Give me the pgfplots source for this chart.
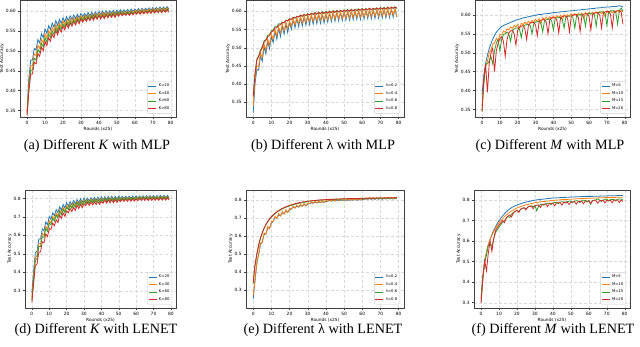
\documentclass[border=0pt]{standalone}
\usepackage{fontspec}
\setmainfont{Liberation Serif}
\newfontfamily\dv{DejaVu Sans}
\usepackage{pgfplots}
\pgfplotsset{compat=1.18}
\usepackage{pgfplotstable}

\definecolor{mplblue}{HTML}{1F77B4}
\definecolor{mplorange}{HTML}{FF7F0E}
\definecolor{mplgreen}{HTML}{2CA02C}
\definecolor{mplred}{HTML}{D62728}

\pgfplotsset{
  panel/.style={
    scale only axis, anchor=south west,
    xmin=-3.95, xmax=82.95,
    xtick={0,10,20,30,40,50,60,70,80},
    grid=major,
    grid style={densely dashed, black!15, line width=0.3pt},
    axis line style={black!75, line width=0.4pt},
    tick align=outside, major tick length=1.6pt,
    tick style={black!75, line width=0.35pt},
    xtick pos=bottom, ytick pos=left,
    /pgf/number format/assume math mode=true,
    tick label style={font=\dv\fontsize{4.4}{5}\selectfont},
    label style={font=\dv\fontsize{4.3}{5}\selectfont},
    xlabel={Rounds (x25)}, ylabel={Test Accuracy},
    xlabel style={yshift=4.5pt}, ylabel style={yshift=-5pt},
    xticklabel style={yshift=0.8pt}, yticklabel style={xshift=0.8pt},
    every axis plot/.append style={line width=0.8pt},
    legend style={at={(0.975,0.03)}, anchor=south east,
      font=\dv\fontsize{3.8}{4.2}\selectfont, draw=black!20,
      rounded corners=1pt, inner sep=0.6pt, row sep=-0.9pt,
      fill=white, fill opacity=0.85, text opacity=1},
    legend cell align=left,
    legend image code/.code={\draw[#1, line width=0.8pt] (0pt,0pt) -- (8pt,0pt);},
  },
  top/.style={yticklabel style={/pgf/number format/.cd, fixed, fixed zerofill, precision=2},
    ytick={0.35,0.4,0.45,0.5,0.55,0.6}},
  bot/.style={yticklabel style={/pgf/number format/.cd, fixed, fixed zerofill, precision=1},
    ytick={0.3,0.4,0.5,0.6,0.7,0.8}},
}

% (a) MLP, different K
\pgfplotstableread{
r s1 s2 s3 s4
0 0.350 0.345 0.342 0.338
1 0.432 0.418 0.407 0.397
2 0.476 0.462 0.451 0.441
3 0.477 0.463 0.452 0.442
4 0.506 0.492 0.481 0.471
5 0.502 0.488 0.477 0.467
6 0.528 0.514 0.503 0.493
7 0.520 0.506 0.496 0.486
8 0.543 0.529 0.519 0.509
9 0.533 0.520 0.510 0.500
10 0.555 0.542 0.533 0.523
11 0.544 0.532 0.522 0.513
12 0.563 0.551 0.542 0.533
13 0.553 0.541 0.533 0.524
14 0.570 0.559 0.550 0.542
15 0.559 0.549 0.541 0.533
16 0.576 0.566 0.558 0.551
17 0.564 0.554 0.547 0.540
18 0.579 0.570 0.563 0.556
19 0.569 0.560 0.554 0.547
20 0.583 0.575 0.568 0.562
21 0.573 0.565 0.559 0.553
22 0.586 0.578 0.573 0.567
23 0.576 0.568 0.563 0.557
24 0.588 0.581 0.575 0.570
25 0.579 0.572 0.567 0.562
26 0.590 0.583 0.578 0.573
27 0.581 0.575 0.570 0.565
28 0.592 0.586 0.581 0.577
29 0.583 0.577 0.572 0.568
30 0.594 0.588 0.584 0.580
31 0.586 0.580 0.576 0.572
32 0.594 0.589 0.585 0.581
33 0.587 0.582 0.578 0.574
34 0.596 0.591 0.587 0.583
35 0.588 0.583 0.580 0.576
36 0.597 0.592 0.589 0.585
37 0.589 0.584 0.581 0.577
38 0.598 0.594 0.590 0.587
39 0.590 0.586 0.582 0.579
40 0.599 0.595 0.591 0.588
41 0.591 0.587 0.583 0.580
42 0.600 0.596 0.592 0.589
43 0.592 0.588 0.584 0.581
44 0.601 0.597 0.593 0.590
45 0.593 0.589 0.586 0.583
46 0.601 0.597 0.594 0.591
47 0.594 0.590 0.587 0.584
48 0.602 0.598 0.595 0.592
49 0.594 0.590 0.587 0.584
50 0.602 0.598 0.596 0.593
51 0.596 0.592 0.590 0.587
52 0.603 0.599 0.597 0.594
53 0.597 0.593 0.591 0.588
54 0.603 0.599 0.597 0.594
55 0.598 0.594 0.592 0.589
56 0.604 0.600 0.598 0.595
57 0.598 0.594 0.592 0.589
58 0.605 0.601 0.599 0.596
59 0.599 0.595 0.593 0.590
60 0.605 0.602 0.599 0.597
61 0.600 0.597 0.594 0.592
62 0.606 0.603 0.600 0.598
63 0.600 0.597 0.594 0.592
64 0.607 0.604 0.601 0.599
65 0.601 0.598 0.595 0.593
66 0.607 0.604 0.601 0.599
67 0.602 0.599 0.596 0.594
68 0.608 0.605 0.602 0.600
69 0.602 0.599 0.596 0.594
70 0.609 0.606 0.603 0.601
71 0.603 0.600 0.597 0.595
72 0.609 0.606 0.603 0.601
73 0.604 0.601 0.598 0.596
74 0.610 0.607 0.604 0.602
75 0.604 0.601 0.598 0.596
76 0.610 0.607 0.604 0.602
77 0.605 0.602 0.599 0.597
78 0.611 0.608 0.605 0.603
79 0.605 0.602 0.599 0.597
}\tabA

% (b) MLP, different lambda
\pgfplotstableread{
r s1 s2 s3 s4
0 0.320 0.340 0.368 0.365
1 0.400 0.415 0.428 0.427
2 0.440 0.450 0.469 0.465
3 0.438 0.448 0.477 0.475
4 0.478 0.484 0.494 0.490
5 0.463 0.473 0.502 0.500
6 0.503 0.509 0.519 0.515
7 0.483 0.493 0.522 0.520
8 0.518 0.524 0.534 0.530
9 0.497 0.507 0.536 0.534
10 0.531 0.537 0.547 0.543
11 0.514 0.524 0.548 0.546
12 0.546 0.549 0.558 0.554
13 0.523 0.533 0.557 0.555
14 0.554 0.557 0.566 0.562
15 0.531 0.541 0.565 0.563
16 0.561 0.564 0.570 0.569
17 0.537 0.547 0.568 0.569
18 0.567 0.570 0.576 0.575
19 0.542 0.552 0.573 0.574
20 0.571 0.574 0.580 0.579
21 0.551 0.559 0.577 0.578
22 0.578 0.579 0.584 0.583
23 0.555 0.563 0.581 0.582
24 0.581 0.582 0.587 0.586
25 0.558 0.566 0.584 0.585
26 0.584 0.585 0.590 0.589
27 0.560 0.568 0.586 0.587
28 0.586 0.587 0.592 0.591
29 0.562 0.570 0.588 0.589
30 0.588 0.589 0.594 0.593
31 0.564 0.572 0.590 0.591
32 0.589 0.590 0.595 0.594
33 0.565 0.573 0.591 0.592
34 0.591 0.592 0.597 0.596
35 0.566 0.574 0.592 0.593
36 0.592 0.593 0.598 0.597
37 0.567 0.575 0.593 0.594
38 0.593 0.594 0.599 0.598
39 0.568 0.576 0.594 0.595
40 0.594 0.595 0.600 0.599
41 0.571 0.577 0.595 0.596
42 0.596 0.596 0.601 0.600
43 0.572 0.578 0.596 0.597
44 0.597 0.597 0.602 0.601
45 0.573 0.579 0.597 0.598
46 0.598 0.598 0.603 0.602
47 0.574 0.580 0.598 0.599
48 0.598 0.598 0.603 0.602
49 0.575 0.581 0.599 0.600
50 0.599 0.599 0.604 0.603
51 0.576 0.582 0.600 0.601
52 0.600 0.600 0.605 0.604
53 0.576 0.582 0.600 0.601
54 0.601 0.601 0.606 0.605
55 0.577 0.583 0.601 0.602
56 0.601 0.601 0.606 0.605
57 0.578 0.584 0.602 0.603
58 0.602 0.602 0.607 0.606
59 0.578 0.584 0.602 0.603
60 0.603 0.603 0.608 0.607
61 0.579 0.585 0.603 0.604
62 0.603 0.603 0.608 0.607
63 0.580 0.586 0.604 0.605
64 0.604 0.604 0.609 0.608
65 0.580 0.586 0.604 0.605
66 0.604 0.604 0.609 0.608
67 0.581 0.587 0.605 0.606
68 0.605 0.605 0.610 0.609
69 0.581 0.587 0.605 0.606
70 0.606 0.606 0.611 0.610
71 0.582 0.588 0.606 0.607
72 0.606 0.606 0.611 0.610
73 0.582 0.588 0.606 0.607
74 0.607 0.607 0.612 0.611
75 0.583 0.589 0.607 0.608
76 0.607 0.607 0.612 0.611
77 0.584 0.590 0.608 0.609
78 0.608 0.608 0.613 0.612
79 0.584 0.585 0.608 0.609
}\tabB

% (c) MLP, different M
\pgfplotstableread{
r s1 s2 s3 s4
0 0.390 0.360 0.345 0.345
1 0.440 0.417 0.420 0.430
2 0.472 0.463 0.470 0.470
3 0.493 0.477 0.470 0.395
4 0.510 0.500 0.478 0.470
5 0.524 0.507 0.490 0.500
6 0.536 0.523 0.470 0.512
7 0.546 0.525 0.505 0.450
8 0.554 0.538 0.525 0.505
9 0.560 0.529 0.535 0.525
10 0.565 0.549 0.505 0.537
11 0.569 0.547 0.535 0.542
12 0.572 0.557 0.548 0.530
13 0.574 0.554 0.550 0.490
14 0.576 0.563 0.555 0.535
15 0.578 0.560 0.550 0.552
16 0.580 0.568 0.530 0.558
17 0.582 0.564 0.557 0.560
18 0.584 0.572 0.563 0.550
19 0.586 0.568 0.565 0.520
20 0.588 0.575 0.566 0.560
21 0.589 0.562 0.562 0.568
22 0.590 0.578 0.540 0.570
23 0.592 0.574 0.567 0.572
24 0.593 0.581 0.573 0.563
25 0.594 0.576 0.574 0.535
26 0.595 0.583 0.575 0.572
27 0.596 0.579 0.572 0.578
28 0.597 0.586 0.550 0.580
29 0.598 0.581 0.577 0.580
30 0.599 0.588 0.581 0.573
31 0.600 0.583 0.582 0.545
32 0.601 0.590 0.583 0.582
33 0.601 0.576 0.578 0.586
34 0.602 0.592 0.555 0.587
35 0.603 0.587 0.584 0.588
36 0.603 0.594 0.587 0.580
37 0.604 0.588 0.588 0.550
38 0.604 0.595 0.589 0.588
39 0.605 0.590 0.585 0.592
40 0.606 0.597 0.560 0.592
41 0.606 0.591 0.590 0.593
42 0.607 0.598 0.592 0.585
43 0.607 0.593 0.593 0.552
44 0.608 0.599 0.593 0.592
45 0.608 0.585 0.588 0.596
46 0.609 0.600 0.565 0.597
47 0.609 0.595 0.594 0.597
48 0.610 0.601 0.596 0.590
49 0.610 0.596 0.597 0.555
50 0.611 0.603 0.597 0.596
51 0.611 0.597 0.592 0.600
52 0.612 0.603 0.565 0.600
53 0.612 0.598 0.598 0.601
54 0.613 0.604 0.600 0.593
55 0.613 0.599 0.600 0.556
56 0.614 0.605 0.601 0.598
57 0.614 0.590 0.596 0.602
58 0.615 0.606 0.570 0.603
59 0.615 0.600 0.602 0.603
60 0.616 0.607 0.604 0.596
61 0.616 0.601 0.604 0.560
62 0.617 0.607 0.605 0.601
63 0.617 0.602 0.600 0.605
64 0.618 0.608 0.570 0.606
65 0.618 0.602 0.605 0.606
66 0.619 0.609 0.607 0.599
67 0.619 0.603 0.608 0.565
68 0.620 0.609 0.608 0.604
69 0.620 0.595 0.603 0.608
70 0.621 0.610 0.572 0.609
71 0.621 0.604 0.608 0.609
72 0.621 0.611 0.610 0.602
73 0.622 0.605 0.611 0.565
74 0.622 0.611 0.611 0.606
75 0.622 0.606 0.606 0.610
76 0.623 0.612 0.575 0.611
77 0.624 0.606 0.612 0.611
78 0.623 0.612 0.618 0.608
79 0.621 0.608 0.610 0.575
}\tabC

% (d) LENET, different K
\pgfplotstableread{
r s1 s2 s3 s4
0 0.290 0.265 0.250 0.235
1 0.405 0.380 0.365 0.335
2 0.505 0.480 0.465 0.435
3 0.515 0.490 0.475 0.445
4 0.580 0.555 0.540 0.510
5 0.580 0.555 0.540 0.510
6 0.635 0.610 0.595 0.565
7 0.625 0.602 0.589 0.560
8 0.673 0.650 0.637 0.608
9 0.658 0.635 0.622 0.593
10 0.702 0.679 0.666 0.637
11 0.687 0.668 0.657 0.632
12 0.722 0.703 0.692 0.667
13 0.707 0.688 0.677 0.652
14 0.740 0.721 0.710 0.685
15 0.724 0.705 0.694 0.669
16 0.755 0.739 0.730 0.710
17 0.737 0.721 0.712 0.692
18 0.767 0.751 0.742 0.722
19 0.748 0.732 0.723 0.703
20 0.777 0.761 0.752 0.732
21 0.759 0.746 0.739 0.722
22 0.783 0.770 0.763 0.746
23 0.766 0.753 0.746 0.729
24 0.789 0.776 0.769 0.752
25 0.772 0.759 0.752 0.735
26 0.794 0.784 0.778 0.764
27 0.776 0.766 0.760 0.746
28 0.798 0.788 0.782 0.768
29 0.780 0.770 0.764 0.750
30 0.802 0.792 0.786 0.772
31 0.785 0.777 0.772 0.761
32 0.802 0.794 0.789 0.778
33 0.787 0.779 0.774 0.763
34 0.804 0.796 0.791 0.780
35 0.789 0.781 0.776 0.765
36 0.806 0.798 0.793 0.782
37 0.791 0.783 0.778 0.767
38 0.807 0.799 0.794 0.783
39 0.792 0.784 0.779 0.768
40 0.809 0.801 0.796 0.785
41 0.793 0.786 0.783 0.774
42 0.810 0.803 0.800 0.791
43 0.794 0.787 0.784 0.775
44 0.811 0.804 0.801 0.792
45 0.795 0.788 0.785 0.776
46 0.812 0.805 0.802 0.793
47 0.796 0.789 0.786 0.777
48 0.812 0.805 0.802 0.793
49 0.797 0.790 0.787 0.778
50 0.813 0.806 0.803 0.794
51 0.799 0.793 0.790 0.783
52 0.812 0.806 0.803 0.796
53 0.800 0.794 0.791 0.784
54 0.812 0.806 0.803 0.796
55 0.801 0.795 0.792 0.785
56 0.813 0.807 0.804 0.797
57 0.801 0.795 0.792 0.785
58 0.813 0.807 0.804 0.797
59 0.802 0.796 0.793 0.786
60 0.814 0.808 0.805 0.798
61 0.802 0.797 0.794 0.788
62 0.814 0.809 0.806 0.800
63 0.803 0.798 0.795 0.789
64 0.815 0.810 0.807 0.801
65 0.803 0.798 0.795 0.789
66 0.815 0.810 0.807 0.801
67 0.803 0.798 0.795 0.789
68 0.816 0.811 0.808 0.802
69 0.804 0.799 0.796 0.790
70 0.816 0.811 0.808 0.802
71 0.804 0.799 0.796 0.790
72 0.816 0.811 0.808 0.802
73 0.804 0.799 0.796 0.790
74 0.817 0.812 0.809 0.803
75 0.805 0.800 0.797 0.791
76 0.817 0.812 0.809 0.803
77 0.805 0.800 0.797 0.791
78 0.817 0.812 0.809 0.803
79 0.805 0.800 0.797 0.791
}\tabD

% (e) LENET, different lambda
\pgfplotstableread{
r s1 s2 s3 s4
0 0.250 0.270 0.335 0.340
1 0.352 0.349 0.437 0.440
2 0.448 0.457 0.497 0.500
3 0.497 0.494 0.547 0.550
4 0.553 0.562 0.587 0.590
5 0.567 0.564 0.617 0.620
6 0.608 0.617 0.642 0.645
7 0.612 0.609 0.662 0.665
8 0.645 0.654 0.679 0.682
9 0.643 0.640 0.693 0.696
10 0.671 0.680 0.705 0.708
11 0.683 0.681 0.715 0.718
12 0.702 0.710 0.724 0.727
13 0.700 0.698 0.732 0.735
14 0.717 0.725 0.739 0.742
15 0.713 0.711 0.745 0.748
16 0.729 0.737 0.751 0.754
17 0.724 0.722 0.756 0.759
18 0.738 0.746 0.760 0.763
19 0.732 0.730 0.764 0.767
20 0.746 0.754 0.768 0.771
21 0.750 0.750 0.771 0.774
22 0.761 0.767 0.774 0.777
23 0.756 0.756 0.777 0.780
24 0.766 0.772 0.779 0.782
25 0.761 0.761 0.782 0.785
26 0.771 0.777 0.784 0.787
27 0.765 0.765 0.786 0.789
28 0.775 0.781 0.788 0.791
29 0.768 0.768 0.789 0.792
30 0.778 0.784 0.791 0.794
31 0.780 0.780 0.794 0.795
32 0.785 0.791 0.795 0.796
33 0.782 0.782 0.796 0.797
34 0.787 0.793 0.797 0.798
35 0.784 0.784 0.798 0.799
36 0.789 0.795 0.799 0.800
37 0.786 0.786 0.800 0.801
38 0.790 0.796 0.800 0.801
39 0.787 0.787 0.801 0.802
40 0.792 0.798 0.802 0.803
41 0.793 0.793 0.802 0.803
42 0.798 0.804 0.803 0.804
43 0.794 0.794 0.803 0.804
44 0.799 0.805 0.804 0.805
45 0.795 0.795 0.804 0.805
46 0.800 0.806 0.805 0.806
47 0.796 0.796 0.805 0.806
48 0.800 0.806 0.805 0.806
49 0.797 0.797 0.806 0.807
50 0.801 0.807 0.806 0.807
51 0.797 0.798 0.806 0.807
52 0.802 0.807 0.807 0.808
53 0.798 0.799 0.807 0.808
54 0.802 0.807 0.807 0.808
55 0.799 0.800 0.808 0.809
56 0.803 0.808 0.808 0.809
57 0.799 0.800 0.808 0.809
58 0.803 0.808 0.808 0.809
59 0.800 0.801 0.809 0.810
60 0.804 0.809 0.809 0.810
61 0.803 0.804 0.809 0.810
62 0.807 0.812 0.809 0.810
63 0.804 0.805 0.810 0.811
64 0.808 0.813 0.810 0.811
65 0.804 0.805 0.810 0.811
66 0.808 0.813 0.810 0.811
67 0.804 0.805 0.810 0.811
68 0.809 0.814 0.811 0.812
69 0.805 0.806 0.811 0.812
70 0.809 0.814 0.811 0.812
71 0.805 0.806 0.811 0.812
72 0.809 0.814 0.811 0.812
73 0.806 0.807 0.812 0.813
74 0.810 0.815 0.812 0.813
75 0.806 0.807 0.812 0.813
76 0.810 0.815 0.812 0.813
77 0.806 0.807 0.812 0.813
78 0.810 0.815 0.812 0.813
79 0.807 0.805 0.813 0.814
}\tabE

% (f) LENET, different M
\pgfplotstableread{
r s1 s2 s3 s4
0 0.330 0.320 0.305 0.300
1 0.430 0.425 0.420 0.420
2 0.500 0.500 0.500 0.505
3 0.545 0.548 0.530 0.455
4 0.580 0.582 0.580 0.540
5 0.608 0.607 0.585 0.600
6 0.632 0.628 0.575 0.550
7 0.652 0.646 0.610 0.610
8 0.670 0.662 0.640 0.650
9 0.686 0.676 0.655 0.665
10 0.700 0.689 0.668 0.680
11 0.712 0.700 0.680 0.688
12 0.723 0.710 0.692 0.700
13 0.733 0.719 0.700 0.690
14 0.742 0.727 0.712 0.712
15 0.750 0.734 0.720 0.722
16 0.757 0.741 0.715 0.728
17 0.763 0.747 0.732 0.718
18 0.768 0.752 0.740 0.738
19 0.772 0.757 0.745 0.745
20 0.776 0.761 0.750 0.750
21 0.779 0.765 0.744 0.740
22 0.782 0.768 0.755 0.755
23 0.785 0.771 0.760 0.760
24 0.788 0.774 0.762 0.762
25 0.790 0.777 0.757 0.752
26 0.792 0.779 0.766 0.766
27 0.794 0.781 0.770 0.769
28 0.796 0.783 0.772 0.770
29 0.798 0.785 0.768 0.758
30 0.800 0.787 0.774 0.772
31 0.801 0.788 0.748 0.775
32 0.802 0.790 0.770 0.776
33 0.803 0.791 0.778 0.764
34 0.804 0.792 0.780 0.777
35 0.805 0.793 0.775 0.780
36 0.806 0.794 0.782 0.781
37 0.807 0.795 0.784 0.768
38 0.808 0.796 0.785 0.782
39 0.809 0.797 0.778 0.784
40 0.810 0.798 0.786 0.785
41 0.810 0.799 0.788 0.772
42 0.811 0.800 0.789 0.786
43 0.811 0.800 0.782 0.787
44 0.812 0.801 0.790 0.788
45 0.812 0.802 0.791 0.775
46 0.813 0.802 0.792 0.788
47 0.813 0.803 0.785 0.790
48 0.814 0.803 0.793 0.790
49 0.814 0.804 0.794 0.778
50 0.815 0.804 0.794 0.790
51 0.815 0.805 0.787 0.792
52 0.815 0.805 0.795 0.792
53 0.816 0.806 0.796 0.780
54 0.816 0.806 0.796 0.792
55 0.816 0.807 0.788 0.793
56 0.817 0.807 0.797 0.794
57 0.817 0.807 0.797 0.782
58 0.817 0.808 0.798 0.794
59 0.818 0.808 0.790 0.795
60 0.818 0.809 0.798 0.795
61 0.818 0.809 0.780 0.783
62 0.818 0.809 0.797 0.796
63 0.819 0.810 0.800 0.797
64 0.819 0.810 0.801 0.797
65 0.819 0.810 0.806 0.785
66 0.819 0.811 0.800 0.797
67 0.820 0.811 0.792 0.798
68 0.820 0.811 0.801 0.798
69 0.820 0.812 0.802 0.786
70 0.820 0.812 0.806 0.798
71 0.821 0.812 0.795 0.799
72 0.821 0.813 0.802 0.799
73 0.821 0.813 0.803 0.787
74 0.821 0.813 0.803 0.799
75 0.821 0.813 0.796 0.800
76 0.822 0.814 0.804 0.800
77 0.822 0.814 0.805 0.788
78 0.822 0.814 0.805 0.800
79 0.822 0.814 0.800 0.793
}\tabF

\begin{document}
\begin{tikzpicture}
\useasboundingbox (0,0) rectangle (640pt,346pt);

% ---- top row ----
\begin{axis}[panel, top, at={(20pt,229pt)}, width=156pt, height=116.5pt,
  ymin=0.3335, ymax=0.6265]
  \addplot[mplblue] table[x=r,y=s1]{\tabA};
  \addplot[mplorange] table[x=r,y=s2]{\tabA};
  \addplot[mplgreen] table[x=r,y=s3]{\tabA};
  \addplot[mplred] table[x=r,y=s4]{\tabA};
  \legend{K=20,K=40,K=60,K=80}
\end{axis}

\begin{axis}[panel, top, at={(246pt,229pt)}, width=158pt, height=116.5pt,
  ymin=0.309, ymax=0.630]
  \addplot[mplblue] table[x=r,y=s1]{\tabB};
  \addplot[mplorange] table[x=r,y=s2]{\tabB};
  \addplot[mplgreen] table[x=r,y=s3]{\tabB};
  \addplot[mplred] table[x=r,y=s4]{\tabB};
  \legend{λ=0.2,λ=0.4,λ=0.6,λ=0.8}
\end{axis}

\begin{axis}[panel, top, at={(475pt,229pt)}, width=155pt, height=116.5pt,
  ymin=0.330, ymax=0.638]
  \addplot[mplblue] table[x=r,y=s1]{\tabC};
  \addplot[mplorange] table[x=r,y=s2]{\tabC};
  \addplot[mplgreen] table[x=r,y=s3]{\tabC};
  \addplot[mplred] table[x=r,y=s4]{\tabC};
  \legend{M=5,M=10,M=15,M=20}
\end{axis}

% ---- bottom row ----
\begin{axis}[panel, bot, at={(25pt,38pt)}, width=151pt, height=118pt,
  ymin=0.206, ymax=0.846]
  \addplot[mplblue] table[x=r,y=s1]{\tabD};
  \addplot[mplorange] table[x=r,y=s2]{\tabD};
  \addplot[mplgreen] table[x=r,y=s3]{\tabD};
  \addplot[mplred] table[x=r,y=s4]{\tabD};
  \legend{K=20,K=40,K=60,K=80}
\end{axis}

\begin{axis}[panel, bot, at={(246pt,38pt)}, width=158pt, height=118pt,
  ymin=0.20, ymax=0.856]
  \addplot[mplblue] table[x=r,y=s1]{\tabE};
  \addplot[mplorange] table[x=r,y=s2]{\tabE};
  \addplot[mplgreen] table[x=r,y=s3]{\tabE};
  \addplot[mplred] table[x=r,y=s4]{\tabE};
  \legend{λ=0.2,λ=0.4,λ=0.6,λ=0.8}
\end{axis}

\begin{axis}[panel, bot, at={(474pt,38pt)}, width=156pt, height=118pt,
  ymin=0.274, ymax=0.849]
  \addplot[mplblue] table[x=r,y=s1]{\tabF};
  \addplot[mplorange] table[x=r,y=s2]{\tabF};
  \addplot[mplgreen] table[x=r,y=s3]{\tabF};
  \addplot[mplred] table[x=r,y=s4]{\tabF};
  \legend{M=5,M=10,M=15,M=20}
\end{axis}

% ---- captions ----
\begin{scope}[every node/.style={font=\fontsize{14.2}{15}\selectfont, inner sep=0pt}]
  \node at (97pt,200pt) {(a) Different \textit{K} with MLP};
  \node at (323pt,200pt) {(b) Different λ with MLP};
  \node at (550pt,200pt) {(c) Different \textit{M} with MLP};
  \node at (96pt,16pt) {(d) Different \textit{K} with LENET};
  \node at (323pt,16pt) {(e) Different λ with LENET};
  \node at (553pt,16pt) {(f) Different \textit{M} with LENET};
\end{scope}
\end{tikzpicture}
\end{document}
